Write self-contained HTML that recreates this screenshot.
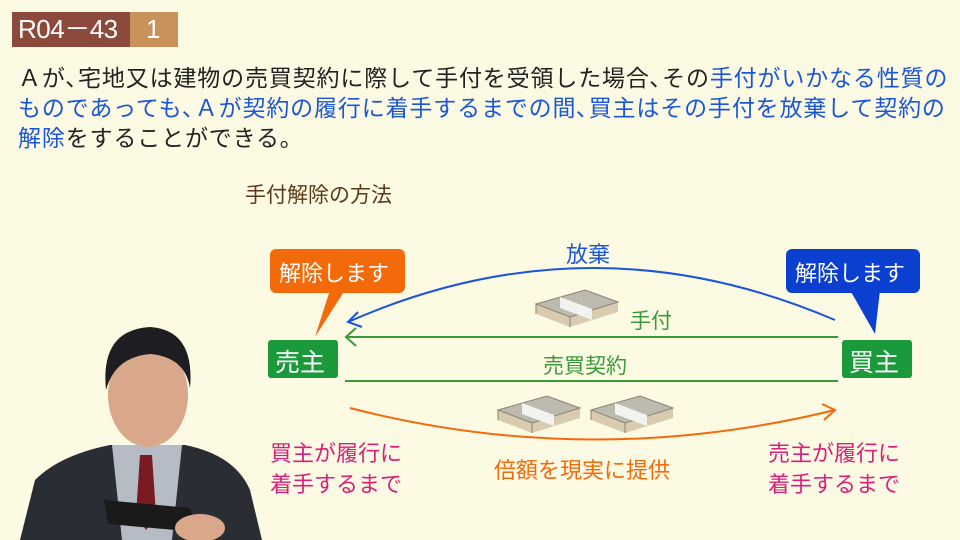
<!DOCTYPE html>
<html><head><meta charset="utf-8"><style>
body{margin:0;width:960px;height:540px;overflow:hidden;background:#fdfae4;font-family:"Liberation Sans","Noto Sans CJK JP",sans-serif;position:relative}
.a{position:absolute;white-space:nowrap}
.t{font-size:23px;color:#222;left:18px;letter-spacing:0.85px}
.b{color:#1a56d8}
</style></head><body>
<div class="a" style="left:12px;top:12px;width:118px;height:35px;background:#8b4a3c"></div>
<div class="a" style="left:130px;top:12px;width:48px;height:35px;background:#c8925a"></div>
<div class="a" style="left:18px;top:12px;font-size:26px;color:#fff;line-height:35px;letter-spacing:-0.5px">R04－43</div>
<div class="a" style="left:146px;top:12px;font-size:26px;color:#fff;line-height:35px">1</div>
<div class="a t" style="top:59px">Ａが､宅地又は建物の売買契約に際して手付を受領した場合､その<span class="b">手付がいかなる性質の</span></div>
<div class="a t b" style="top:89px">ものであっても､Ａが契約の履行に着手するまでの間､買主はその手付を放棄して契約の</div>
<div class="a t" style="top:119px"><span class="b">解除</span>をすることができる｡</div>
<div class="a" style="left:245px;top:179px;font-size:21px;color:#5a3a1a">手付解除の方法</div>

<svg class="a" style="left:0;top:0" width="960" height="540">
<rect x="270" y="249" width="135" height="44" rx="6" fill="#f26a0a"/>
<path d="M330 290 L345 290 L315 337Z" fill="#f26a0a"/>
<rect x="786" y="249" width="134" height="44" rx="6" fill="#0b3fd0"/>
<path d="M850 290 L880 290 L875 334Z" fill="#0b3fd0"/>
<path d="M835 320 Q590 215 348 322" fill="none" stroke="#1a56d8" stroke-width="2"/>
<path d="M358 312 L348 322 L362 327" fill="none" stroke="#1a56d8" stroke-width="2"/>
<line x1="345" y1="337" x2="838" y2="337" stroke="#3a9a3a" stroke-width="2"/>
<path d="M356 328 L346 337 L356 346" fill="none" stroke="#3a9a3a" stroke-width="2"/>
<line x1="345" y1="381" x2="838" y2="381" stroke="#3a9a3a" stroke-width="2"/>
<path d="M350 408 Q590 470 835 410" fill="none" stroke="#f26a0a" stroke-width="2"/>
<path d="M822 404 L835 410 L824 420" fill="none" stroke="#f26a0a" stroke-width="2"/>
<g id="m"><path d="M536 304 L585 290 L618 302 L618 312 L570 327 L536 314Z" fill="#d9cbb0"/><path d="M536 304 L585 290 L618 302 L570 317Z" fill="#bdbab0" stroke="#8a8270" stroke-width="1"/><path d="M570 317 L570 327 M536 304 L536 314" stroke="#8a8270"/><path d="M560 297 L592 309 L592 320 L560 308Z" fill="#f2f2f0"/></g>
<use href="#m" x="-38" y="106"/><use href="#m" x="55" y="106"/>
<rect x="268" y="340" width="70" height="38" rx="3" fill="#1a9a3a"/>
<rect x="842" y="340" width="70" height="38" rx="3" fill="#1a9a3a"/>
<path d="M20 540 L35 480 Q60 455 110 445 L185 445 Q235 455 250 490 L262 540Z" fill="#2b2d35"/>
<path d="M112 445 L182 445 L172 540 L122 540Z" fill="#b6bcc6"/>
<path d="M140 455 L152 455 L156 515 L146 530 L136 515Z" fill="#7a1b22"/>
<ellipse cx="148" cy="395" rx="40" ry="52" fill="#d9a88a"/>
<path d="M106 390 Q100 330 150 327 Q195 330 190 388 Q185 357 150 354 Q115 357 106 390Z" fill="#1e1e22"/>
<path d="M104 500 L190 508 L198 532 L108 524Z" fill="#1a1a1a"/>
<ellipse cx="200" cy="528" rx="25" ry="14" fill="#d9a88a"/>
</svg>
<div class="a" style="left:566px;top:237px;font-size:22px;color:#1a56d8">放棄</div>
<div class="a" style="left:279px;top:256px;font-size:22px;color:#fff">解除します</div>
<div class="a" style="left:795px;top:256px;font-size:22px;color:#fff">解除します</div>
<div class="a" style="left:630px;top:305px;font-size:21px;color:#3a9a3a">手付</div>
<div class="a" style="left:543px;top:350px;font-size:21px;color:#3a9a3a">売買契約</div>
<div class="a" style="left:275px;top:343px;font-size:25px;color:#fff">売主</div>
<div class="a" style="left:849px;top:343px;font-size:25px;color:#fff">買主</div>
<div class="a" style="left:270px;top:438px;font-size:22px;color:#d8207a;line-height:31px">買主が履行に<br>着手するまで</div>
<div class="a" style="left:768px;top:438px;font-size:22px;color:#d8207a;line-height:31px">売主が履行に<br>着手するまで</div>
<div class="a" style="left:494px;top:453px;font-size:22px;color:#f26a0a">倍額を現実に提供</div>
</body></html>
